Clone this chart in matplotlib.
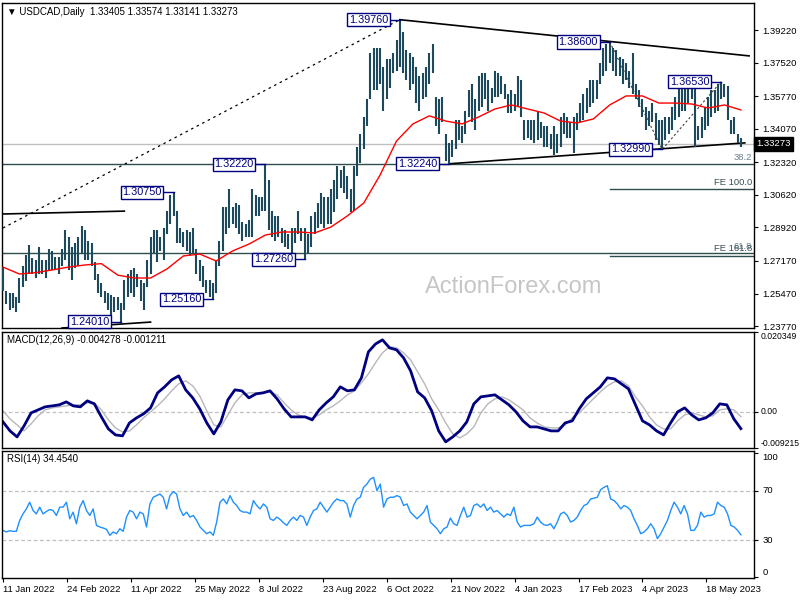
import numpy as np
import matplotlib.pyplot as plt
from matplotlib.transforms import blended_transform_factory

plt.rcParams['font.family'] = ['Liberation Sans', 'DejaVu Sans']

# ---- data (daily USDCAD, one entry per drawn bar) ----
dates = ["11 Jan 2022", "24 Feb 2022", "11 Apr 2022", "25 May 2022", "8 Jul 2022",
         "23 Aug 2022", "6 Oct 2022", "21 Nov 2022", "4 Jan 2023", "17 Feb 2023",
         "4 Apr 2023", "18 May 2023"]

highs = [
    1.268, 1.256, 1.255, 1.255, 1.253, 1.263, 1.269, 1.275, 1.280, 1.273,
    1.272, 1.279, 1.272, 1.272, 1.278, 1.277, 1.274, 1.274, 1.278, 1.288,
    1.284, 1.279, 1.281, 1.284, 1.290, 1.288, 1.282, 1.281, 1.271, 1.265,
    1.260, 1.256, 1.255, 1.254, 1.253, 1.253, 1.250, 1.262, 1.265, 1.267,
    1.268, 1.265, 1.262, 1.260, 1.272, 1.284, 1.288, 1.288, 1.284, 1.289,
    1.298, 1.306, 1.3075, 1.298, 1.289, 1.287, 1.288, 1.287, 1.289, 1.278,
    1.272, 1.269, 1.262, 1.262, 1.260, 1.272, 1.282, 1.300, 1.300, 1.309,
    1.300, 1.302, 1.301, 1.292, 1.291, 1.293, 1.309, 1.306, 1.305, 1.305,
    1.3222, 1.314, 1.298, 1.295, 1.295, 1.289, 1.288, 1.286, 1.289, 1.289,
    1.298, 1.289, 1.289, 1.286, 1.295, 1.297, 1.302, 1.307, 1.305, 1.305,
    1.309, 1.314, 1.321, 1.319, 1.321, 1.316, 1.309, 1.321, 1.331, 1.338,
    1.347, 1.356, 1.380, 1.383, 1.383, 1.383, 1.373, 1.377, 1.377, 1.380,
    1.387, 1.3976, 1.391, 1.382, 1.380, 1.378, 1.373, 1.368, 1.370, 1.373,
    1.380, 1.385, 1.357, 1.356, 1.357, 1.338, 1.333, 1.335, 1.345, 1.345,
    1.342, 1.350, 1.361, 1.364, 1.356, 1.368, 1.370, 1.370, 1.366, 1.362,
    1.371, 1.370, 1.368, 1.364, 1.359, 1.361, 1.359, 1.368, 1.366, 1.345,
    1.345, 1.345, 1.345, 1.350, 1.344, 1.342, 1.342, 1.338, 1.342, 1.338,
    1.347, 1.349, 1.347, 1.344, 1.347, 1.349, 1.354, 1.359, 1.362, 1.366,
    1.366, 1.366, 1.375, 1.383, 1.385, 1.3860, 1.383, 1.382, 1.378, 1.377,
    1.375, 1.371, 1.380, 1.364, 1.361, 1.356, 1.352, 1.350, 1.354, 1.349,
    1.345, 1.345, 1.347, 1.347, 1.352, 1.357, 1.364, 1.366, 1.364, 1.364,
    1.366, 1.366, 1.342, 1.347, 1.352, 1.357, 1.361, 1.361, 1.364, 1.3653,
    1.364, 1.363, 1.345, 1.347, 1.338, 1.33574]

lows = [
    1.256, 1.249, 1.246, 1.247, 1.245, 1.250, 1.258, 1.261, 1.265, 1.265,
    1.263, 1.265, 1.265, 1.263, 1.267, 1.267, 1.267, 1.265, 1.269, 1.272,
    1.267, 1.262, 1.268, 1.269, 1.276, 1.272, 1.272, 1.269, 1.262, 1.255,
    1.253, 1.250, 1.246, 1.242, 1.245, 1.246, 1.2401, 1.246, 1.253, 1.255,
    1.253, 1.258, 1.251, 1.246, 1.258, 1.265, 1.276, 1.271, 1.277, 1.272,
    1.286, 1.291, 1.295, 1.281, 1.281, 1.279, 1.277, 1.275, 1.276, 1.265,
    1.261, 1.258, 1.255, 1.253, 1.2516, 1.255, 1.269, 1.277, 1.286, 1.289,
    1.291, 1.289, 1.286, 1.282, 1.284, 1.284, 1.284, 1.295, 1.295, 1.298,
    1.298, 1.288, 1.284, 1.282, 1.284, 1.281, 1.279, 1.278, 1.276, 1.281,
    1.286, 1.282, 1.2726, 1.276, 1.279, 1.286, 1.289, 1.291, 1.289, 1.291,
    1.291, 1.297, 1.304, 1.310, 1.307, 1.304, 1.297, 1.298, 1.316, 1.323,
    1.330, 1.342, 1.356, 1.361, 1.361, 1.364, 1.350, 1.356, 1.362, 1.370,
    1.371, 1.373, 1.370, 1.366, 1.361, 1.364, 1.354, 1.350, 1.356, 1.357,
    1.364, 1.370, 1.342, 1.338, 1.344, 1.324, 1.3224, 1.326, 1.330, 1.335,
    1.333, 1.338, 1.347, 1.344, 1.340, 1.350, 1.352, 1.356, 1.350, 1.354,
    1.357, 1.357, 1.359, 1.356, 1.349, 1.349, 1.350, 1.352, 1.347, 1.335,
    1.336, 1.335, 1.333, 1.335, 1.336, 1.331, 1.331, 1.330, 1.327, 1.328,
    1.331, 1.338, 1.336, 1.336, 1.328, 1.340, 1.344, 1.345, 1.349, 1.352,
    1.354, 1.356, 1.364, 1.368, 1.371, 1.375, 1.371, 1.368, 1.368, 1.364,
    1.366, 1.362, 1.359, 1.356, 1.352, 1.347, 1.340, 1.342, 1.344, 1.335,
    1.332, 1.3299, 1.335, 1.338, 1.340, 1.345, 1.347, 1.350, 1.350, 1.354,
    1.356, 1.331, 1.335, 1.336, 1.340, 1.342, 1.347, 1.349, 1.350, 1.356,
    1.357, 1.345, 1.338, 1.338, 1.333, 1.33141]

# red moving average, sampled every 5 bars
ma_step = 5
ma = [1.2685, 1.2649, 1.2656, 1.2670, 1.2685, 1.2696, 1.2703, 1.2643, 1.2628, 1.2628,
      1.2675, 1.2743, 1.2753, 1.2717, 1.2769, 1.2805, 1.2852, 1.2868, 1.2868, 1.2863,
      1.2894, 1.2952, 1.3019, 1.3166, 1.3343, 1.3432, 1.3474, 1.3447, 1.3432, 1.3468,
      1.3510, 1.3531, 1.3510, 1.3489, 1.3447, 1.3437, 1.3458, 1.3531, 1.3578, 1.3578,
      1.3541, 1.3541, 1.3536, 1.3515, 1.3531, 1.3505]

macd = [-0.00255, -0.00485, -0.00638, -0.00357, -0.00026, 0.00051, 0.00128, 0.00153, 0.00179, 0.00255,
        0.00153, 0.00128, 0.00281, 0.00204, -0.00128, -0.00434, -0.00587, -0.00612, -0.00281, -0.00153,
        -0.00051, 0.00102, 0.00485, 0.00638, 0.00816, 0.00918, 0.00561, 0.00357, 0.00077, -0.00281,
        -0.00561, -0.00255, 0.00306, 0.00561, 0.00536, 0.00357, 0.00459, 0.00485, 0.00536, 0.00332,
        0.00077, -0.00128, -0.00128, -0.00128, -0.00204, 0.00051, 0.00230, 0.00383, 0.00638, 0.00536,
        0.00561, 0.00867, 0.01530, 0.01730, 0.01836, 0.01632, 0.01581, 0.01377, 0.01046, 0.00510,
        0.00357, 0.00026, -0.00485, -0.00765, -0.00638, -0.00485, -0.00255, 0.00204, 0.00383, 0.00408,
        0.00434, 0.00306, 0.00179, 0.0, -0.00230, -0.00383, -0.00383, -0.00434, -0.00485, -0.00485,
        -0.00281, -0.00230, 0.00077, 0.00332, 0.00485, 0.00638, 0.00867, 0.00842, 0.00714, 0.00587,
        0.00179, -0.00230, -0.00332, -0.00485, -0.00587, -0.00281, 0.0, 0.00102, -0.00077, -0.00204,
        -0.00153, -0.00026, 0.00204, 0.00179, -0.00179, -0.004278]

signal = [0.00026, -0.00179, -0.00332, -0.00485, -0.00306, -0.00102, 0.00051, 0.00102, 0.00128, 0.00153,
          0.00179, 0.00179, 0.00230, 0.00230, 0.00051, -0.00204, -0.00408, -0.00510, -0.00485, -0.00332,
          -0.00153, 0.0, 0.00153, 0.00332, 0.00536, 0.00714, 0.00791, 0.00663, 0.00408, 0.00026,
          -0.00332, -0.00383, -0.00077, 0.00230, 0.00434, 0.00485, 0.00485, 0.00485, 0.00510, 0.00434,
          0.00230, 0.00051, -0.00077, -0.00128, -0.00153, -0.00077, 0.00051, 0.00153, 0.00281, 0.00434,
          0.00536, 0.00740, 0.00969, 0.01250, 0.01505, 0.01658, 0.01632, 0.01505, 0.01326, 0.01020,
          0.00714, 0.00332, 0.00051, -0.00281, -0.00561, -0.00663, -0.00561, -0.00383, -0.00026, 0.00204,
          0.00332, 0.00383, 0.00306, 0.00179, 0.00051, -0.00153, -0.00281, -0.00383, -0.00408, -0.00408,
          -0.00332, -0.00153, -0.00026, 0.00153, 0.00332, 0.00510, 0.00663, 0.00765, 0.00791, 0.00663,
          0.00383, 0.00153, -0.00128, -0.00332, -0.00434, -0.00434, -0.00230, -0.00077, -0.00026, -0.00077,
          -0.00128, -0.00102, 0.00051, 0.00077, 0.00051, -0.001211]

rsi = [38.0, 36.7, 37.7, 37.2, 37.2, 46.0, 51.3, 55.3, 60.7, 54.0,
       51.3, 56.7, 51.3, 53.2, 54.8, 54.0, 50.0, 56.7, 56.7, 60.7,
       47.3, 52.7, 43.3, 56.7, 62.0, 54.0, 50.0, 55.3, 42.0, 40.7,
       39.9, 38.8, 34.0, 36.7, 35.3, 39.3, 37.2, 48.7, 54.0, 52.7,
       47.3, 52.7, 51.3, 40.7, 59.3, 64.7, 66.0, 67.3, 64.7, 55.3,
       66.0, 69.2, 67.3, 55.3, 50.0, 52.7, 48.7, 50.0, 46.0, 40.7,
       38.0, 35.3, 36.7, 34.0, 44.7, 60.7, 63.3, 59.3, 66.0, 60.7,
       58.0, 54.0, 52.7, 52.7, 51.3, 62.0, 58.0, 55.3, 59.3, 56.7,
       47.3, 46.0, 48.7, 46.8, 44.1, 42.0, 46.0, 48.7, 46.0, 50.0,
       48.7, 42.0, 48.7, 54.0, 55.3, 60.7, 56.7, 52.7, 56.7, 60.7,
       63.3, 62.0, 62.0, 59.3, 48.7, 58.0, 63.3, 64.7, 72.7, 75.3,
       79.3, 80.7, 70.0, 75.3, 56.7, 63.3, 64.7, 64.7, 66.0, 64.7,
       58.0, 59.3, 52.7, 50.0, 47.3, 50.0, 52.7, 58.0, 44.7, 42.0,
       39.3, 35.3, 39.3, 40.7, 47.9, 43.3, 42.0, 50.0, 56.7, 48.7,
       50.0, 58.0, 59.3, 56.7, 59.3, 54.0, 56.7, 52.7, 54.0, 51.3,
       48.7, 51.3, 50.0, 56.7, 44.7, 40.7, 42.0, 42.0, 42.0, 43.3,
       48.7, 44.7, 42.5, 42.0, 43.3, 39.3, 44.7, 51.3, 52.7, 50.0,
       44.7, 46.0, 48.7, 54.0, 58.0, 59.3, 63.3, 63.9, 64.7, 70.8,
       72.7, 74.0, 63.3, 62.0, 59.3, 55.3, 58.0, 56.7, 54.0, 47.3,
       42.0, 35.3, 36.7, 39.3, 43.3, 39.3, 31.3, 35.3, 40.7, 46.0,
       54.0, 60.7, 56.7, 51.3, 58.0, 51.3, 38.0, 38.0, 42.0, 52.7,
       48.7, 50.0, 50.0, 51.3, 60.7, 58.0, 56.7, 51.3, 42.0, 40.7,
       38.0, 34.454]

price_ticks = [1.39220, 1.37520, 1.35770, 1.34070, 1.32320,
               1.30620, 1.28920, 1.27170, 1.25470, 1.23770]
last_price = 1.33273
ohlc_text = "USDCAD,Daily  1.33405 1.33574 1.33141 1.33273"

# swing labels: (bar index, 'h' for high / 'l' for low)
swings = [(36, 'l'), (52, 'h'), (64, 'l'), (80, 'h'), (92, 'l'),
          (121, 'h'), (136, 'l'), (185, 'h'), (201, 'l'), (219, 'h')]

# retracement levels and FE levels
fib_levels = [(1.3223, "38.2"), (1.2758, "61.8")]
fe_levels = [(1.3092, "FE 100.0"), (1.2745, "FE 161.8")]

# hand drawn trend lines: (x0, y0, x1, y1) in bar / price units
trend_lines = [(121, 1.3976, 227.5, 1.3787),
               (136, 1.3224, 226.2, 1.3333),
               (0, 1.2962, 37, 1.2977),
               (18, 1.2367, 45, 1.2398)]
dotted_line = (0, 1.2889, 121, 1.3976)
fe_path_x = [185, 201, 219]
fe_path_y = [1.3860, 1.3299, 1.3653]

bar_c = '#1c4a5c'
navy = '#000080'
n = len(highs)
idx = np.arange(n)

fig = plt.figure(figsize=(8, 6), dpi=100)
ax1 = fig.add_axes([0.0025, 0.4533, 0.94, 0.5417])
ax2 = fig.add_axes([0.0025, 0.2533, 0.94, 0.1933], sharex=ax1)
ax3 = fig.add_axes([0.0025, 0.0367, 0.94, 0.2117], sharex=ax1)

for ax in (ax1, ax2, ax3):
    ax.yaxis.tick_right()
    ax.tick_params(axis='y', labelsize=6.8, length=3, width=0.8, pad=3)
    ax.tick_params(axis='x', labelsize=6.8, length=3, width=0.8, pad=2)
    for s in ax.spines.values():
        s.set_linewidth(1)
        s.set_color('black')

# ---- price panel ----
ax1.text(0.562, 0.126, "ActionForex.com", transform=ax1.transAxes, fontsize=17,
         color='#c6c6c6', ha='left', va='center', zorder=0)

for lvl, lab in fib_levels:
    ax1.axhline(lvl, color='#2f4f4f', lw=1, zorder=1)
    ax1.text(228.5, lvl + 0.0012, lab, fontsize=6.8, color='#6a7f8f', ha='right', va='bottom')
for lvl, lab in fe_levels:
    ax1.plot([185, 229], [lvl, lvl], color='#2f4f4f', lw=1, zorder=1)
    ax1.text(228.5, lvl + 0.0012, lab, fontsize=6.8, color='#3a4f55', ha='right', va='bottom')

ax1.axhline(last_price, color='#c0c0c0', lw=1, zorder=1)

ax1.plot([dotted_line[0], dotted_line[2]], [dotted_line[1], dotted_line[3]],
         color='black', lw=0.9, linestyle=(0, (2, 3)), zorder=2)
ax1.plot(fe_path_x, fe_path_y, color='#404040', lw=0.8, linestyle=(0, (2, 2)), zorder=2)
for x0, y0, x1, y1 in trend_lines:
    ax1.plot([x0, x1], [y0, y1], color='black', lw=1.2, zorder=3)

ax1.vlines(idx, lows, highs, color=bar_c, lw=1.5, zorder=4)
ax1.plot(np.arange(len(ma)) * ma_step, ma, color='red', lw=1, zorder=5)

for i, kind in swings:
    v = highs[i] if kind == 'h' else lows[i]
    ax1.plot([i - 3.2, i], [v, v], color=navy, lw=1, zorder=6)
    ax1.text(i - 3.6, v, "%.5f" % v, fontsize=7.8, color=navy, ha='right', va='center',
             zorder=7, bbox=dict(boxstyle='square,pad=0.15', fc='white', ec=navy, lw=1))

ax1.text(0.006, 0.988, "\u25bc " + ohlc_text, transform=ax1.transAxes, fontsize=7,
         ha='left', va='top')

ax1.set_ylim(1.2367, 1.4063)
ax1.set_yticks(price_ticks)
ax1.set_yticklabels(["%.5f" % t for t in price_ticks])
tr = blended_transform_factory(ax1.transAxes, ax1.transData)
ax1.text(1.003, last_price, "%.5f" % last_price, transform=tr, fontsize=6.8, color='white',
         ha='left', va='center', bbox=dict(boxstyle='square,pad=0.25', fc='black', ec='black'))
ax1.tick_params(axis='x', bottom=False, labelbottom=False)

# ---- MACD panel ----
xm = np.linspace(0, n - 1, len(macd))
ax2.axhline(0, color='#c0c0c0', lw=0.9, linestyle=(0, (3, 2)))
ax2.plot(xm, signal, color='#b8b8b8', lw=1)
ax2.plot(xm, macd, color=navy, lw=2)
ax2.set_ylim(-0.009215, 0.020349)
ax2.set_yticks([-0.009215, 0.0, 0.020349])
ax2.set_yticklabels(["-0.009215", "0.00", "0.020349"])
ax2.tick_params(axis='y', labelsize=6.2, pad=2)
for lab, va in zip(ax2.get_yticklabels(), ['bottom', 'center', 'top']):
    lab.set_va(va)
ax2.text(0.006, 0.93, "MACD(12,26,9) -0.004278 -0.001211", transform=ax2.transAxes,
         fontsize=7, ha='left', va='center')
ax2.tick_params(axis='x', bottom=False, labelbottom=False)

# ---- RSI panel ----
xr = np.linspace(0, n - 1, len(rsi))
for lvl in (30, 70):
    ax3.axhline(lvl, color='#c0c0c0', lw=0.9, linestyle=(0, (3, 2)))
ax3.plot(xr, rsi, color='#1e90ff', lw=1)
ax3.set_ylim(-0.4, 102)
ax3.set_yticks([0, 30, 70, 100])
ax3.set_yticklabels(["0", "30", "70", "100"])
for lab, va in zip(ax3.get_yticklabels(), ['bottom', 'center', 'center', 'top']):
    lab.set_va(va)
ax3.text(0.006, 0.937, "RSI(14) 34.4540", transform=ax3.transAxes,
         fontsize=7, ha='left', va='center')

ax3.set_xticks(np.arange(len(dates)) * 19.5)
ax3.set_xticklabels(dates)
for lab in ax3.get_xticklabels():
    lab.set_ha('left')
ax3.set_xlim(-0.3, 229)

fig.savefig("out.png", dpi=100)
